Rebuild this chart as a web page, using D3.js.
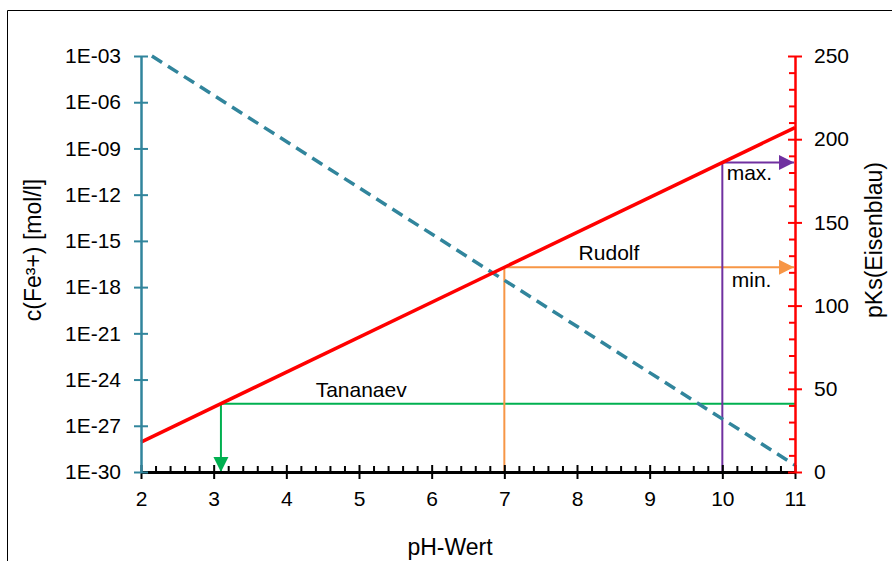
<!DOCTYPE html>
<html lang="de">
<head>
<meta charset="UTF-8">
<title>pH-Wert / Eisenblau</title>
<style>
  body { margin: 0; background: #fff; }
  text { font-family: "Liberation Sans", Arial, sans-serif; fill: #000; }
</style>
<script src="https://cdn.jsdelivr.net/npm/d3@7"></script>
</head>
<body>
<script>
// Daten
var phTicks = [2, 3, 4, 5, 6, 7, 8, 9, 10, 11];
var cTicks = [1e-3, 1e-6, 1e-9, 1e-12, 1e-15, 1e-18, 1e-21, 1e-24, 1e-27, 1e-30];
var pksTicks = [0, 50, 100, 150, 200, 250];

// c(Fe3+) gestrichelt (pH, c)
var cPH = [2.15, 11];
var cWerte = [1e-3, 2.8e-30];

// pKs(Eisenblau) rot (pH, pKs)
var pksPH = [2, 11];
var pksWerte = [18, 207];

// Markierungen
var markNamen = ["Tananaev", "Rudolf", "max."];
var markPH = [3.1, 7, 10];
var markPKs = [41, 123, 186];
var markFarben = ["#00b050", "#f79646", "#7030a0"];

var breite = 892, hoehe = 561;
var rand = {links: 141, rechts: 795, oben: 56, unten: 472};

var svg = d3.select("body").append("svg")
  .attr("width", breite).attr("height", hoehe);

// Rahmen
svg.append("path")
  .attr("d", "M7.5," + hoehe + "V10.5H" + breite)
  .attr("fill", "none").attr("stroke", "#000").attr("stroke-width", 1);

var x = d3.scaleLinear().domain([2, 11]).range([rand.links, rand.rechts]);
var yC = d3.scaleLog().domain([1e-30, 1e-3]).range([rand.unten, rand.oben]);
var yP = d3.scaleLinear().domain([0, 250]).range([rand.unten, rand.oben]);

var teal = "#31859c", rot = "#ff0000";

// Pfeilspitzen
var defs = svg.append("defs");
markFarben.forEach(function(f, i) {
  defs.append("marker")
    .attr("id", "pfeil" + i)
    .attr("viewBox", "0 0 10 10")
    .attr("refX", 10).attr("refY", 5)
    .attr("markerWidth", 15).attr("markerHeight", 16)
    .attr("markerUnits", "userSpaceOnUse")
    .attr("orient", "auto")
    .append("path").attr("d", "M0,0L10,5L0,10Z").attr("fill", f);
});

// Markierungslinien
var mGruppe = svg.append("g");
markPH.forEach(function(ph, i) {
  var f = markFarben[i];
  if (i === 0) {
    // waagerecht bis zur Achse, dann senkrecht nach unten mit Pfeil
    mGruppe.append("line")
      .attr("x1", x(ph)).attr("x2", x(11))
      .attr("y1", yP(markPKs[i])).attr("y2", yP(markPKs[i]))
      .attr("stroke", f).attr("stroke-width", 2);
    mGruppe.append("line")
      .attr("x1", x(ph)).attr("x2", x(ph))
      .attr("y1", yP(markPKs[i])).attr("y2", yP(0))
      .attr("stroke", f).attr("stroke-width", 2)
      .attr("marker-end", "url(#pfeil" + i + ")");
  } else {
    mGruppe.append("line")
      .attr("x1", x(ph)).attr("x2", x(ph))
      .attr("y1", yP(0)).attr("y2", yP(markPKs[i]))
      .attr("stroke", f).attr("stroke-width", 2);
    mGruppe.append("line")
      .attr("x1", x(ph)).attr("x2", x(11) - 1)
      .attr("y1", yP(markPKs[i])).attr("y2", yP(markPKs[i]))
      .attr("stroke", f).attr("stroke-width", 2)
      .attr("marker-end", "url(#pfeil" + i + ")");
  }
});

// Beschriftungen der Markierungen
svg.append("text").attr("x", x(5.03)).attr("y", yP(markPKs[0]) - 7)
  .attr("text-anchor", "middle").attr("font-size", 21).text(markNamen[0]);
svg.append("text").attr("x", x(8.44)).attr("y", yP(markPKs[1]) - 7)
  .attr("text-anchor", "middle").attr("font-size", 21).text(markNamen[1]);
svg.append("text").attr("x", x(10.13)).attr("y", yP(markPKs[1]) + 20)
  .attr("font-size", 21).text("min.");
svg.append("text").attr("x", x(10.06)).attr("y", yP(markPKs[2]) + 18)
  .attr("font-size", 21).text(markNamen[2]);

// gestrichelte Linie c(Fe3+)
var cDaten = cPH.map(function(p, i) { return {ph: p, c: cWerte[i]}; });
svg.append("path").datum(cDaten)
  .attr("fill", "none").attr("stroke", teal).attr("stroke-width", 3.5)
  .attr("stroke-dasharray", "12,7")
  .attr("d", d3.line().x(function(d) { return x(d.ph); }).y(function(d) { return yC(d.c); }));

// rote Linie pKs
var pDaten = pksPH.map(function(p, i) { return {ph: p, pks: pksWerte[i]}; });
svg.append("path").datum(pDaten)
  .attr("fill", "none").attr("stroke", rot).attr("stroke-width", 3.5)
  .attr("d", d3.line().x(function(d) { return x(d.ph); }).y(function(d) { return yP(d.pks); }));

// x-Achse: Nebenstriche
var xMinor = d3.range(2, 11.001, 0.2).filter(function(v) { return Math.abs(v - Math.round(v)) > 0.01; });
svg.append("g").attr("transform", "translate(0," + rand.unten + ")")
  .call(d3.axisTop(x).tickValues(xMinor).tickSize(6).tickFormat(""))
  .call(function(g) {
    g.select(".domain").remove();
    g.selectAll("line").attr("stroke", "#000").attr("stroke-width", 2);
  });

// x-Achse: Hauptstriche
svg.append("g").attr("transform", "translate(0," + rand.unten + ")")
  .call(d3.axisBottom(x).tickValues(phTicks).tickSize(7).tickPadding(12).tickSizeOuter(0))
  .call(function(g) {
    g.select(".domain").attr("stroke", "#000").attr("stroke-width", 3);
    g.selectAll("line").attr("y1", -7).attr("stroke", "#000").attr("stroke-width", 2);
    g.selectAll("text").attr("font-size", 21).attr("fill", "#000")
      .attr("font-family", "Liberation Sans, Arial, sans-serif");
  });

// linke Achse
function expFormat(d) {
  var e = Math.round(-Math.log10(d));
  return "1E-" + (e < 10 ? "0" + e : e);
}
svg.append("g").attr("transform", "translate(" + rand.links + ",0)")
  .call(d3.axisLeft(yC).tickValues(cTicks).tickFormat(expFormat).tickSize(7).tickPadding(13).tickSizeOuter(0))
  .call(function(g) {
    g.select(".domain").attr("stroke", teal).attr("stroke-width", 2.5);
    g.selectAll("line").attr("x2", 7).attr("x1", -7).attr("stroke", teal).attr("stroke-width", 2);
    g.selectAll("text").attr("font-size", 21).attr("fill", "#000")
      .attr("font-family", "Liberation Sans, Arial, sans-serif");
  });

// rechte Achse: Nebenstriche
var pMinor = d3.range(10, 250, 10).filter(function(v) { return v % 50 !== 0; });
svg.append("g").attr("transform", "translate(" + rand.rechts + ",0)")
  .call(d3.axisLeft(yP).tickValues(pMinor).tickSize(6).tickFormat(""))
  .call(function(g) {
    g.select(".domain").remove();
    g.selectAll("line").attr("stroke", rot).attr("stroke-width", 2);
  });

// rechte Achse: Hauptstriche
svg.append("g").attr("transform", "translate(" + rand.rechts + ",0)")
  .call(d3.axisRight(yP).tickValues(pksTicks).tickSize(7).tickPadding(12).tickSizeOuter(0))
  .call(function(g) {
    g.select(".domain").attr("stroke", rot).attr("stroke-width", 2.5);
    g.selectAll("line").attr("x1", -7).attr("stroke", rot).attr("stroke-width", 2);
    g.selectAll("text").attr("font-size", 21).attr("fill", "#000")
      .attr("font-family", "Liberation Sans, Arial, sans-serif");
  });

// Achsentitel
svg.append("text").attr("x", 450).attr("y", 555)
  .attr("text-anchor", "middle").attr("font-size", 23).text("pH-Wert");
svg.append("text").attr("transform", "translate(41,250) rotate(-90)")
  .attr("text-anchor", "middle").attr("font-size", 23).text("c(Fe³+) [mol/l]");
svg.append("text").attr("transform", "translate(882,240) rotate(-90)")
  .attr("text-anchor", "middle").attr("font-size", 23).text("pKs(Eisenblau)");
</script>
</body>
</html>
